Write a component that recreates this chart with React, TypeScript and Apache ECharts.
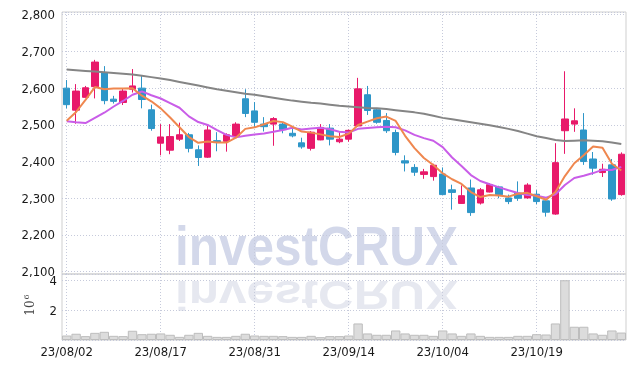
import React, { useEffect, useRef } from 'react';
import * as echarts from 'echarts';

const dates = [
  '23/08/02', '23/08/03', '23/08/04', '23/08/07', '23/08/08', '23/08/09', '23/08/10', '23/08/11', '23/08/14', '23/08/16',
  '23/08/17', '23/08/18', '23/08/21', '23/08/22', '23/08/23', '23/08/24', '23/08/25', '23/08/28', '23/08/29', '23/08/30',
  '23/08/31', '23/09/01', '23/09/04', '23/09/05', '23/09/06', '23/09/07', '23/09/08', '23/09/11', '23/09/12', '23/09/13',
  '23/09/14', '23/09/15', '23/09/18', '23/09/19', '23/09/20', '23/09/21', '23/09/22', '23/09/25', '23/09/26', '23/09/27',
  '23/10/04', '23/10/05', '23/10/06', '23/10/10', '23/10/11', '23/10/12', '23/10/13', '23/10/16', '23/10/17', '23/10/18',
  '23/10/19', '23/10/20', '23/10/23', '23/10/24', '23/10/25', '23/10/26', '23/10/27', '23/10/30', '23/10/31', '23/11/01',
];

const opens = [
  2600, 2540, 2575, 2604, 2642, 2570, 2561, 2597, 2600, 2541,
  2450, 2431, 2461, 2473, 2432, 2412, 2457, 2455, 2468, 2571,
  2538, 2502, 2502, 2502, 2477, 2451, 2436, 2459, 2491, 2454,
  2461, 2497, 2582, 2541, 2512, 2479, 2402, 2384, 2365, 2359,
  2366, 2323, 2286, 2328, 2287, 2317, 2331, 2301, 2314, 2301,
  2311, 2293, 2257, 2484, 2502, 2486, 2407, 2370, 2391, 2310,
];
const closes = [
  2555, 2592, 2601, 2671, 2566, 2564, 2592, 2606, 2569, 2490,
  2467, 2468, 2473, 2436, 2411, 2486, 2453, 2473, 2502, 2531,
  2507, 2495, 2517, 2487, 2470, 2440, 2480, 2493, 2461, 2461,
  2485, 2598, 2539, 2507, 2484, 2425, 2396, 2371, 2372, 2390,
  2310, 2316, 2307, 2261, 2323, 2337, 2310, 2291, 2300, 2336,
  2291, 2262, 2397, 2516, 2511, 2400, 2382, 2379, 2298, 2420,
];
const lows = [
  2545, 2503, 2574, 2572, 2556, 2558, 2554, 2588, 2545, 2484,
  2417, 2420, 2456, 2425, 2388, 2410, 2428, 2427, 2467, 2521,
  2493, 2482, 2443, 2477, 2466, 2435, 2430, 2458, 2444, 2450,
  2454, 2495, 2527, 2503, 2478, 2417, 2373, 2361, 2353, 2348,
  2309, 2269, 2285, 2252, 2283, 2316, 2300, 2284, 2293, 2299,
  2284, 2250, 2255, 2421, 2481, 2391, 2364, 2358, 2293, 2307,
];
const highs = [
  2622, 2611, 2606, 2677, 2660, 2579, 2598, 2652, 2634, 2555,
  2502, 2502, 2506, 2478, 2444, 2502, 2480, 2477, 2507, 2597,
  2562, 2521, 2521, 2507, 2489, 2465, 2483, 2502, 2502, 2480,
  2487, 2628, 2606, 2543, 2532, 2487, 2417, 2393, 2380, 2394,
  2384, 2337, 2335, 2351, 2328, 2341, 2334, 2310, 2346, 2341,
  2322, 2298, 2450, 2646, 2545, 2532, 2426, 2394, 2407, 2425,
];

// volume in millions (10^6)
const volumes = [
  0.30, 0.42, 0.26, 0.48, 0.55, 0.28, 0.26, 0.62, 0.39, 0.42,
  0.44, 0.35, 0.21, 0.35, 0.48, 0.28, 0.21, 0.21, 0.28, 0.42,
  0.30, 0.28, 0.28, 0.26, 0.21, 0.21, 0.28, 0.19, 0.26, 0.26,
  0.30, 1.11, 0.44, 0.35, 0.35, 0.64, 0.44, 0.35, 0.35, 0.28,
  0.64, 0.44, 0.28, 0.44, 0.28, 0.21, 0.21, 0.21, 0.28, 0.28,
  0.39, 0.37, 1.11, 4.01, 0.89, 0.89, 0.44, 0.35, 0.64, 0.50,
];

const ma5 = [
  2511, 2535, 2568, 2603, 2597, 2598.8, 2598.8, 2599.8, 2579.4, 2564.2,
  2544.8, 2520, 2493.4, 2466.8, 2451, 2454.8, 2451.8, 2451.8, 2465, 2489,
  2493.2, 2501.6, 2510.4, 2507.4, 2495.2, 2481.8, 2478.8, 2474, 2468.8, 2467,
  2476, 2499.6, 2508.8, 2518, 2522.6, 2510.6, 2470.2, 2436.6, 2409.6, 2390.8,
  2367.8, 2351.8, 2339, 2316.8, 2303.4, 2308.8, 2307.6, 2304.4, 2312.2, 2314.8,
  2305.6, 2296, 2317.2, 2360.4, 2395.4, 2417.2, 2441.2, 2437.6, 2394, 2375.8,
];
const ma10 = [
  2510, 2507, 2505, 2519, 2533, 2550, 2565, 2582, 2591, 2580.6,
  2571.8, 2559.4, 2546.6, 2523.1, 2507.6, 2499.8, 2485.9, 2472.6, 2465.9, 2470,
  2474, 2476.7, 2481.1, 2486.2, 2492.1, 2487.5, 2490.2, 2492.2, 2488.1, 2481.1,
  2478.9, 2489.2, 2491.4, 2493.4, 2494.8, 2493.3, 2484.9, 2472.7, 2463.8, 2456.7,
  2439.2, 2411, 2387.8, 2363.2, 2347.1, 2338.3, 2329.7, 2321.7, 2314.5, 2309.1,
  2307.2, 2301.8, 2310.8, 2336.3, 2355.1, 2361.4, 2368.6, 2377.4, 2377.2, 2385.6,
];
const maLong = [
  2651, 2649, 2647, 2645, 2643, 2641, 2639, 2637, 2634, 2630,
  2626, 2622, 2617, 2612, 2607, 2602, 2597, 2593, 2589, 2585,
  2582, 2578, 2574, 2570, 2566, 2563, 2560, 2558, 2555, 2552,
  2550, 2548, 2546, 2545, 2543, 2540, 2537, 2534, 2530, 2525,
  2519, 2515, 2511, 2507, 2503, 2499, 2494, 2489, 2483, 2476,
  2469, 2464, 2459, 2456, 2457, 2458, 2457, 2455, 2452, 2448,
];

export default function App() {
  const ref = useRef<HTMLDivElement>(null);
  useEffect(() => {
    const chart = echarts.init(ref.current!, null, { renderer: 'svg' });
    const font = "'DejaVu Sans Condensed', 'DejaVu Sans', sans-serif";
    const candle = dates.map((_, i) => [opens[i], closes[i], lows[i], highs[i]]);
    const gridLine = { show: true, lineStyle: { color: '#c6cadb', type: [1, 2], width: 1 } };
    const vLine = { show: true, interval: 9, alignWithLabel: true, lineStyle: { color: '#c6cadb', type: [1, 2], width: 1 } };
    const labelStyle = { fontFamily: font, fontSize: 13, fontWeight: 'normal', color: '#1a1a1a' };
    const wmColor = '#d3d8ea';
    chart.setOption({
      animation: false,
      grid: [
        { left: 62, right: 9, top: 12, height: 262, show: true, borderColor: '#cfcfcf', borderWidth: 1 },
        { left: 62, right: 9, top: 274, height: 66, show: true, borderColor: '#cfcfcf', borderWidth: 1 },
      ],
      xAxis: [
        {
          type: 'category', gridIndex: 0, data: dates, boundaryGap: true,
          axisLine: { show: false }, axisTick: { show: false }, axisLabel: { show: false },
          splitLine: vLine,
        },
        {
          type: 'category', gridIndex: 1, data: dates, boundaryGap: true,
          axisLine: { show: false }, axisTick: { show: false },
          axisLabel: { interval: 9, margin: 5, ...labelStyle },
          splitLine: vLine,
        },
      ],
      yAxis: [
        {
          type: 'value', gridIndex: 0, min: 2093.7, max: 2807.4, splitNumber: 7, scale: true,
          axisLine: { show: false }, axisTick: { show: false },
          axisLabel: {
            margin: 7, showMinLabel: false, showMaxLabel: false, ...labelStyle,
            formatter: (v: number) => (Math.abs(v % 100) < 1e-6 ? v.toLocaleString('en-US') : ''),
          },
          splitLine: gridLine,
        },
        {
          type: 'value', gridIndex: 1, min: 0, max: 4.43, splitNumber: 2,
          axisLine: { show: false }, axisTick: { show: false },
          axisLabel: {
            margin: 5, showMinLabel: false, showMaxLabel: false, ...labelStyle,
            formatter: (v: number) => (v === 2 || v === 4 ? String(v) : ''),
          },
          splitLine: gridLine,
        },
      ],
      graphic: [
        {
          type: 'text', x: 175, y: 273, z: -1, scaleX: 0.97, scaleY: 1.1, silent: true,
          style: {
            text: 'investCRUX', fill: wmColor, fontFamily: "'Liberation Sans', sans-serif",
            fontWeight: 'bold', fontSize: 51, verticalAlign: 'bottom', align: 'left',
          },
        },
        {
          type: 'text', x: 175, y: 275, z: -1, scaleX: 0.97, scaleY: -0.78, silent: true,
          style: {
            text: 'investCRUX', fill: '#e6e8f0', fontFamily: "'Liberation Sans', sans-serif",
            fontWeight: 'bold', fontSize: 51, verticalAlign: 'bottom', align: 'left',
          },
        },
        {
          type: 'text', x: 30, y: 308, rotation: Math.PI / 2, silent: true,
          style: { text: '10', fill: '#444', fontFamily: "'DejaVu Serif', serif", fontSize: 12, align: 'center', verticalAlign: 'middle' },
        },
        {
          type: 'text', x: 26, y: 297, rotation: Math.PI / 2, silent: true,
          style: { text: '6', fill: '#444', fontFamily: "'DejaVu Serif', serif", fontSize: 8, align: 'center', verticalAlign: 'middle' },
        },
      ],
      series: [
        {
          type: 'candlestick', xAxisIndex: 0, yAxisIndex: 0, data: candle, barWidth: 7,
          itemStyle: { color: '#e8196a', color0: '#2e96c8', borderColor: '#e8196a', borderColor0: '#2e96c8', borderWidth: 1 },
        },
        {
          type: 'line', xAxisIndex: 0, yAxisIndex: 0, data: maLong, symbol: 'none',
          lineStyle: { color: '#858585', width: 2 },
        },
        {
          type: 'line', xAxisIndex: 0, yAxisIndex: 0, data: ma10, symbol: 'none',
          lineStyle: { color: '#c95de8', width: 2 },
        },
        {
          type: 'line', xAxisIndex: 0, yAxisIndex: 0, data: ma5, symbol: 'none',
          lineStyle: { color: '#ef874f', width: 2 },
        },
        {
          type: 'bar', xAxisIndex: 1, yAxisIndex: 1, data: volumes, barCategoryGap: '0%',
          itemStyle: { color: '#dcdcdc', borderColor: '#bdbdbd', borderWidth: 1 },
        },
      ],
    });
    return () => chart.dispose();
  }, []);
  return <div ref={ref} style={{ position: 'fixed', left: 0, top: 0, width: 635, height: 368 }} />;
}
